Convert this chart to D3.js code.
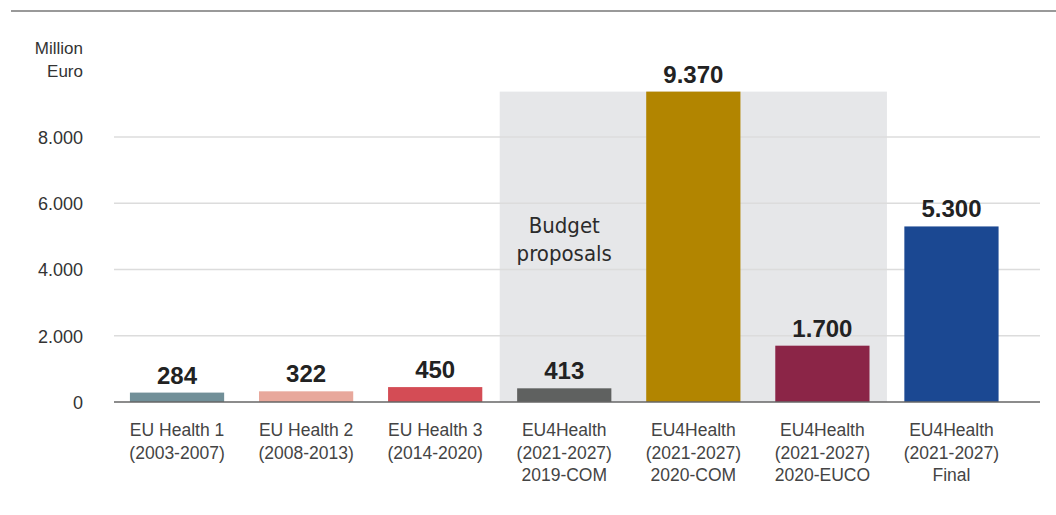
<!DOCTYPE html>
<html><head><meta charset="utf-8">
<script src="https://cdn.jsdelivr.net/npm/d3@7"></script>
<style>
body{margin:0;background:#fff;}
svg{display:block;}
.tick text{font-family:"Liberation Sans",Arial,sans-serif;}
</style></head>
<body>
<svg id="c" width="1056" height="515"></svg>
<script>
const categories = ["EU Health 1|(2003-2007)","EU Health 2|(2008-2013)","EU Health 3|(2014-2020)","EU4Health|(2021-2027)|2019-COM","EU4Health|(2021-2027)|2020-COM","EU4Health|(2021-2027)|2020-EUCO","EU4Health|(2021-2027)|Final"];
const values = [284,322,450,413,9370,1700,5300];
const valueLabels = ["284","322","450","413","9.370","1.700","5.300"];
const colors = ["#718f98","#e8a89c","#d44c55","#5f6160","#b28500","#8b2547","#1b4892"];
const yTicks = [0,2000,4000,6000,8000];
const yTickLabels = ["0","2.000","4.000","6.000","8.000"];
const proposalCats = [categories[3],categories[4],categories[5]];

const svg = d3.select("#c");
const x = d3.scaleBand().domain(categories).range([112.5,1016]).paddingInner(0.27).paddingOuter(0.135);
const y = d3.scaleLinear().domain([0,8000]).range([402,137]);

// top rule
svg.append("line").attr("x1",11).attr("x2",1056).attr("y1",11).attr("y2",11).attr("stroke","#777").attr("stroke-width",1.5);

// shaded proposals region
const step = x.step(), pad = (step - x.bandwidth())/2;
svg.append("rect")
  .attr("x", x(proposalCats[0]) - pad)
  .attr("width", x(proposalCats[2]) + x.bandwidth() + pad - (x(proposalCats[0]) - pad))
  .attr("y", y(9370)).attr("height", y(0)-y(9370))
  .attr("fill","#e6e7e9");

// gridlines
svg.append("g").selectAll("line").data(yTicks.slice(1)).join("line")
  .attr("x1",114).attr("x2",1040).attr("y1",d=>y(d)).attr("y2",d=>y(d))
  .attr("stroke","#dcdcdc").attr("stroke-width",1.5);

// y axis labels
const yAxis = d3.axisLeft(y).tickValues(yTicks).tickFormat((d,i)=>yTickLabels[i]).tickSize(0).tickPadding(0);
const ya = svg.append("g").attr("transform","translate(83,0)").call(yAxis);
ya.select(".domain").remove();
ya.selectAll("text").attr("font-size",18).attr("fill","#333").attr("dy","0.35em");

// unit label
svg.append("text").attr("x",83).attr("y",54).attr("text-anchor","end").attr("font-family","'Liberation Sans',Arial,sans-serif").attr("font-size",17).attr("fill","#333").text("Million");
svg.append("text").attr("x",83).attr("y",77).attr("text-anchor","end").attr("font-family","'Liberation Sans',Arial,sans-serif").attr("font-size",17).attr("fill","#333").text("Euro");

// Budget proposals label
const bp = svg.append("text").attr("text-anchor","middle").attr("font-family","'Liberation Sans Narrow','DejaVu Sans Condensed',sans-serif").attr("font-size",22).attr("fill","#2b2b2b");
bp.append("tspan").attr("x", x(proposalCats[0]) + x.bandwidth()/2).attr("y",233).text("Budget");
bp.append("tspan").attr("x", x(proposalCats[0]) + x.bandwidth()/2).attr("y",261).text("proposals");

// bars
svg.append("g").selectAll("rect").data(values).join("rect")
  .attr("x",(d,i)=>x(categories[i])).attr("width",x.bandwidth())
  .attr("y",d=>y(d)).attr("height",d=>y(0)-y(d))
  .attr("fill",(d,i)=>colors[i]);

// baseline
svg.append("line").attr("x1",114).attr("x2",1040).attr("y1",y(0)).attr("y2",y(0)).attr("stroke","#666").attr("stroke-width",1.5);

// value labels
svg.append("g").selectAll("text").data(values).join("text")
  .attr("x",(d,i)=>x(categories[i])+x.bandwidth()/2).attr("y",d=>y(d)-9)
  .attr("text-anchor","middle").attr("font-family","'Liberation Sans',Arial,sans-serif")
  .attr("font-weight","bold").attr("font-size",24).attr("fill","#222")
  .text((d,i)=>valueLabels[i]);

// x axis labels
const xAxis = d3.axisBottom(x).tickSize(0).tickFormat("");
const xa = svg.append("g").attr("transform",`translate(0,${y(0)})`).call(xAxis);
xa.select(".domain").remove();
xa.selectAll(".tick").each(function(d){
  const t = d3.select(this).append("text").attr("text-anchor","middle").attr("font-size",17.5).attr("fill","#444").attr("font-family","'Liberation Sans',Arial,sans-serif");
  d.split("|").forEach((s,i)=>t.append("tspan").attr("x",0).attr("y",34+i*22.5).text(s));
});
</script>
</body></html>
